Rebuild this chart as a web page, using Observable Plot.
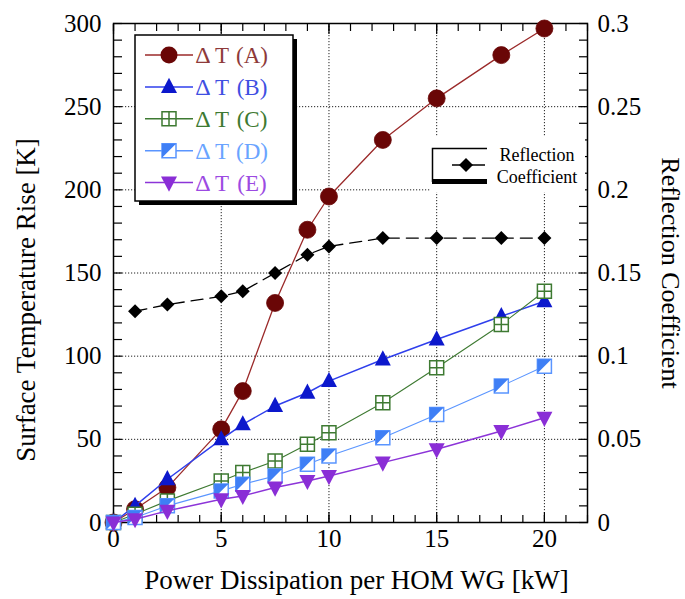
<!DOCTYPE html>
<html>
<head>
<meta charset="utf-8">
<script src="https://cdn.jsdelivr.net/npm/d3@7"></script>
<script src="https://cdn.jsdelivr.net/npm/@observablehq/plot@0.6"></script>
<style>
  body { margin: 0; background: #fff; }
  #chart svg { display: block; }
</style>
</head>
<body>
<div id="chart"></div>
<script>
// ---------- data ----------
const power = [0, 1, 2.5, 5, 6, 7.5, 9, 10, 12.5, 15, 18, 20];
const dtA = [0, 8, 21, 56, 79, 132, 176, 196, 230, 255, 281, 297];
const dtB = [0, 10, 26, 50, 59, 70, 78, 85, 98, 110, 124, 133];
const dtC = [0, 5, 13, 25, 30, 37, 47, 54, 72, 93, 119, 139];
const dtD = [0, 3, 10, 19, 23, 28, 35, 40, 51, 65, 82, 94];
const dtE = [0, 2, 7, 14, 16, 21, 25, 28, 36, 44, 55, 63];
const reflPower = [1, 2.5, 5, 6, 7.5, 9, 10, 12.5, 15, 18, 20];
const reflCoef = [0.127, 0.131, 0.136, 0.139, 0.150, 0.161, 0.166, 0.171, 0.171, 0.171, 0.171];
const seriesNames = ["A", "B", "C", "D", "E"];
const xTicks = [0, 5, 10, 15, 20];
const yTicks = [0, 50, 100, 150, 200, 250, 300];
const rTicks = [0, 0.05, 0.1, 0.15, 0.2, 0.25, 0.3];
const xTitle = "Power Dissipation per HOM WG [kW]";
const yTitle = "Surface Temperature Rise [K]";
const rTitle = "Reflection Coefficient";

// ---------- styles ----------
const fam = "'Liberation Serif', 'Times New Roman', serif";
const col = {
  A: {line: "#9b2a2a", mark: "#6a0606", text: "#8e3a3a"},
  B: {line: "#2f3fec", mark: "#0c18cc", text: "#3f4fe2"},
  C: {line: "#3e7a32", mark: "#3e7a32", text: "#3e7a32"},
  D: {line: "#5a95ff", mark: "#3f7ff5", text: "#6aa4ff"},
  E: {line: "#8c34d8", mark: "#8a2ed6", text: "#9c4ae2"}
};

// custom symbols (size = PI * r^2)
const rad = s => Math.sqrt(s / Math.PI);
const triUp = {draw(c, s) { const r = rad(s); c.moveTo(0, -1.15 * r); c.lineTo(r, 0.75 * r); c.lineTo(-r, 0.75 * r); c.closePath(); }};
const triDown = {draw(c, s) { const r = rad(s); c.moveTo(0, 1.15 * r); c.lineTo(r, -0.75 * r); c.lineTo(-r, -0.75 * r); c.closePath(); }};
const box = {draw(c, s) { const r = rad(s); c.moveTo(-r, -r); c.lineTo(r, -r); c.lineTo(r, r); c.lineTo(-r, r); c.closePath(); }};
const crossBox = {draw(c, s) { const r = rad(s); c.moveTo(-r, -r); c.lineTo(r, -r); c.lineTo(r, r); c.lineTo(-r, r); c.closePath(); c.moveTo(-r, 0); c.lineTo(r, 0); c.moveTo(0, -r); c.lineTo(0, r); }};
const halfTri = {draw(c, s) { const r = rad(s); c.moveTo(-r, -r); c.lineTo(r, -r); c.lineTo(-r, r); c.closePath(); }};
const diamond = {draw(c, s) { const r = rad(s); c.moveTo(0, -r); c.lineTo(r, 0); c.lineTo(0, r); c.lineTo(-r, 0); c.closePath(); }};

const tbl = (ys) => power.map((p, i) => ({p, t: ys[i]}));
const tA = tbl(dtA), tB = tbl(dtB), tC = tbl(dtC), tD = tbl(dtD), tE = tbl(dtE);
const tR = reflPower.map((p, i) => ({p, r: reflCoef[i]}));

const xMinor = d3.range(0, 23, 1);
const yMinor = d3.range(0, 301, 10);
const gridStyle = {stroke: "#222", strokeOpacity: 1, strokeWidth: 1, strokeDasharray: "1.2,1.8"};
const blank = () => "";

const chart = Plot.plot({
  width: 685,
  height: 599,
  marginLeft: 113,
  marginRight: 98,
  marginTop: 23,
  marginBottom: 77,
  style: {fontFamily: fam, background: "white", color: "black"},
  x: {domain: [0, 22]},
  y: {domain: [0, 300]},
  marks: [
    Plot.gridX(xTicks.slice(1), gridStyle),
    Plot.gridY(yTicks.slice(1, -1), gridStyle),
    // inward ticks
    Plot.axisX(xMinor, {anchor: "bottom", tickSize: -7, tickFormat: blank, label: null, strokeWidth: 1.2}),
    Plot.axisX(xTicks, {anchor: "bottom", tickSize: -10, tickFormat: blank, label: null, strokeWidth: 1.2}),
    Plot.axisX(xMinor, {anchor: "top", tickSize: -7, tickFormat: blank, label: null, strokeWidth: 1.2}),
    Plot.axisX(xTicks, {anchor: "top", tickSize: -10, tickFormat: blank, label: null, strokeWidth: 1.2}),
    Plot.axisY(yMinor, {anchor: "left", tickSize: -9, tickFormat: blank, label: null, strokeWidth: 1.2}),
    Plot.axisY(yMinor, {anchor: "right", tickSize: -9, tickFormat: blank, label: null, strokeWidth: 1.2}),
    // tick labels
    Plot.axisX(xTicks, {anchor: "bottom", tickSize: 0, tickPadding: 7, fontSize: 25, label: null}),
    Plot.axisY(yTicks, {anchor: "left", tickSize: 0, tickPadding: 12, fontSize: 25, label: null}),
    Plot.axisY(rTicks.map(v => v * 1000), {anchor: "right", tickSize: 0, tickPadding: 10, fontSize: 25, label: null,
      tickFormat: v => String(+(v / 1000).toFixed(2))}),
    Plot.frame({stroke: "black", strokeWidth: 1.5}),
    // series A
    Plot.line(tA, {x: "p", y: "t", stroke: col.A.line, strokeWidth: 1.3}),
    Plot.dot(tA, {x: "p", y: "t", symbol: "circle", r: 8.5, fill: col.A.mark, stroke: col.A.mark, strokeWidth: 0.8}),
    // series B
    Plot.line(tB, {x: "p", y: "t", stroke: col.B.line, strokeWidth: 1.5}),
    Plot.dot(tB, {x: "p", y: "t", symbol: triUp, r: 8, fill: col.B.mark, stroke: "none"}),
    // series C
    Plot.line(tC, {x: "p", y: "t", stroke: col.C.line, strokeWidth: 1.1}),
    Plot.dot(tC, {x: "p", y: "t", symbol: crossBox, r: 7, fill: "white", stroke: col.C.mark, strokeWidth: 1.5}),
    // series D
    Plot.line(tD, {x: "p", y: "t", stroke: col.D.line, strokeWidth: 1.1}),
    Plot.dot(tD, {x: "p", y: "t", symbol: box, r: 7, fill: "white", stroke: col.D.line, strokeWidth: 1.5}),
    Plot.dot(tD, {x: "p", y: "t", symbol: halfTri, r: 7, fill: col.D.mark, stroke: "none"}),
    // series E
    Plot.line(tE, {x: "p", y: "t", stroke: col.E.line, strokeWidth: 1.5}),
    Plot.dot(tE, {x: "p", y: "t", symbol: triDown, r: 8, fill: col.E.mark, stroke: "none"}),
    // reflection coefficient (right scale: 0..0.3 -> 0..300)
    Plot.line(tR, {x: "p", y: d => d.r * 1000, stroke: "black", strokeWidth: 1.3, strokeDasharray: "12,7"}),
    Plot.dot(tR, {x: "p", y: d => d.r * 1000, symbol: diamond, r: 7, fill: "black", stroke: "none"}),
    // axis titles
    Plot.text([xTitle], {text: d => d, frameAnchor: "bottom", textAnchor: "middle", dx: 6, dy: 58, fontSize: 27, lineAnchor: "middle"}),
    Plot.text([yTitle], {text: d => d, frameAnchor: "left", textAnchor: "middle", rotate: -90, dx: -87, dy: 27, fontSize: 27, lineAnchor: "middle"}),
    Plot.text([rTitle], {text: d => d, frameAnchor: "right", textAnchor: "middle", rotate: 90, dx: 83, dy: 0, fontSize: 26, lineAnchor: "middle"})
  ]
});

document.getElementById("chart").appendChild(chart);

// ---------- legends (overlay) ----------
const svg = d3.select(chart);
const g = svg.append("g").attr("font-family", fam);

// main legend box with shadow
g.append("rect").attr("x", 139).attr("y", 39).attr("width", 158).attr("height", 166).attr("fill", "black");
g.append("rect").attr("x", 135).attr("y", 35).attr("width", 158).attr("height", 166)
  .attr("fill", "white").attr("stroke", "black").attr("stroke-width", 1.5);

const symOf = {A: d3.symbolCircle, B: triUp, C: crossBox, D: box, E: triDown};
const rOf = {A: 8.5, B: 8, C: 7, D: 7, E: 8};
seriesNames.forEach((name, i) => {
  const y = 55 + i * 31.9;
  const c = col[name];
  g.append("line").attr("x1", 145).attr("x2", 193).attr("y1", y).attr("y2", y)
    .attr("stroke", c.line).attr("stroke-width", 1.5);
  const r = rOf[name];
  const size = Math.PI * r * r;
  const sym = g.append("path").attr("transform", `translate(169,${y})`)
    .attr("d", d3.symbol(symOf[name], size)());
  if (name === "A" || name === "B" || name === "E") sym.attr("fill", c.mark);
  else sym.attr("fill", "white").attr("stroke", name === "C" ? c.mark : c.line).attr("stroke-width", 1.5);
  if (name === "D") {
    g.append("path").attr("transform", `translate(169,${y})`)
      .attr("d", d3.symbol(halfTri, size)()).attr("fill", c.mark);
  }
  g.append("text").attr("x", 203).attr("y", y).attr("dy", "0.35em")
    .attr("font-size", 24).attr("fill", c.text).text("Δ");
  g.append("text").attr("x", 222).attr("y", y).attr("dy", "0.35em")
    .attr("font-size", 23).attr("fill", c.text).text("T");
  g.append("text").attr("x", 252).attr("y", y).attr("dy", "0.35em")
    .attr("font-size", 23).attr("fill", c.text).text(`(${name})`);
});

// reflection legend
const rg = svg.append("g").attr("font-family", fam);
rg.append("rect").attr("x", 430).attr("y", 137).attr("width", 155).attr("height", 55).attr("fill", "white");
rg.append("path").attr("d", "M487,148.5 H432.5 V182").attr("fill", "none").attr("stroke", "black").attr("stroke-width", 1.5);
rg.append("rect").attr("x", 432).attr("y", 179).attr("width", 55).attr("height", 5).attr("fill", "black");
rg.append("line").attr("x1", 452).attr("x2", 485).attr("y1", 165).attr("y2", 165)
  .attr("stroke", "black").attr("stroke-width", 1.3);
rg.append("path").attr("transform", "translate(466,165)").attr("d", d3.symbol(diamond, Math.PI * 49)()).attr("fill", "black");
rg.append("text").attr("x", 537).attr("y", 155).attr("dy", "0.35em").attr("text-anchor", "middle")
  .attr("font-size", 18).text("Reflection");
rg.append("text").attr("x", 537).attr("y", 177).attr("dy", "0.35em").attr("text-anchor", "middle")
  .attr("font-size", 18).text("Coefficient");
</script>
</body>
</html>
